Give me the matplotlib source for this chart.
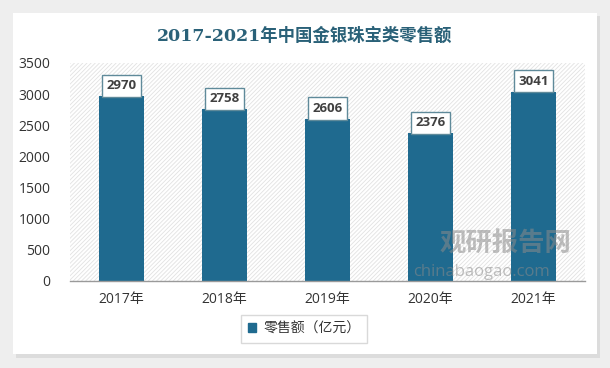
import matplotlib
matplotlib.use("Agg")
import matplotlib.pyplot as plt
from matplotlib.patches import Rectangle

plt.rcParams['font.family'] = ['Open Sans', 'Noto Sans CJK SC', 'DejaVu Sans']
plt.rcParams['hatch.linewidth'] = 0.6

# ── Dados ──────────────────────────────────────────────
years = ["2017年", "2018年", "2019年", "2020年", "2021年"]
sales = [2970, 2758, 2606, 2376, 3041]
yticks = [0, 500, 1000, 1500, 2000, 2500, 3000, 3500]
title = "2017-2021年中国金银珠宝类零售额"
series_name = "零售额（亿元）"

BAR = "#1f6a8f"
TEAL = "#2a6178"

fig = plt.figure(figsize=(6.1, 3.68), dpi=100)
fig.patch.set_facecolor("#eeeeee")
# cartão branco com sombra
fig.add_artist(Rectangle((16 / 610, 10 / 368), 584 / 610, 342 / 368,
                         transform=fig.transFigure, facecolor="#dcdcdc",
                         edgecolor="none", zorder=0))
fig.add_artist(Rectangle((13 / 610, 14 / 368), 584 / 610, 341 / 368,
                         transform=fig.transFigure, facecolor="white",
                         edgecolor="none", zorder=0))

ax = fig.add_axes([70 / 610, 87 / 368, 515 / 610, 218 / 368])
ax.set_facecolor("white")
ax.add_patch(Rectangle((0, 0), 1, 1, transform=ax.transAxes, facecolor="white",
                       edgecolor="#e2e2e2", hatch="////////", lw=0, zorder=0))

x = range(len(years))
ax.bar(x, sales, width=0.43, color=BAR, zorder=2)

for xi, v in zip(x, sales):
    ax.text(xi, v + 165, f"{v}", ha="center", va="center", fontsize=9.5,
            fontweight="bold", color="#404040", zorder=4,
            bbox=dict(boxstyle="square,pad=0.35", facecolor="white",
                      edgecolor="#5f8a9a", lw=1.0))

ax.set_xlim(-0.5, len(years) - 0.5)
ax.set_ylim(0, 3500)
ax.set_yticks(yticks)
ax.set_xticks(list(x))
ax.set_xticklabels(years)
ax.tick_params(axis="both", length=0, labelsize=10, colors="#333333")
ax.tick_params(axis="y", pad=14)
ax.tick_params(axis="x", pad=8)
for s in ["top", "right", "left"]:
    ax.spines[s].set_visible(False)
ax.spines["bottom"].set_color("#9a9a9a")
ax.spines["bottom"].set_linewidth(1.0)

fig.text(0.5, 332 / 368, title, ha="center", va="center", fontsize=12.5,
         fontweight="bold", color=TEAL,
         family=["DejaVu Serif", "Noto Sans CJK SC"])

# legenda
leg = ax.legend([Rectangle((0, 0), 1, 1, color=BAR)], [series_name],
                loc="center", frameon=True, fontsize=10,
                handlelength=0.6, handleheight=0.6, handletextpad=0.5,
                borderpad=0.5, fancybox=False)
leg.set_bbox_to_anchor((304 / 610, 39 / 368), transform=fig.transFigure)
leg.get_frame().set_edgecolor("#d0d0d0")
for t in leg.get_texts():
    t.set_color("#333333")

# marca d'água
fig.text(505 / 610, 124 / 368, "观研报告网", ha="center", va="center",
         fontsize=19, fontweight="bold", color="#8a8a8a", alpha=0.55,
         family=["Noto Sans CJK SC"], zorder=5)
fig.text(482 / 610, 96 / 368, "chinabaogao.com", ha="center", va="center",
         fontsize=12, color="#8a8a8a", alpha=0.55, zorder=5)

fig.savefig("out.png", dpi=100)
